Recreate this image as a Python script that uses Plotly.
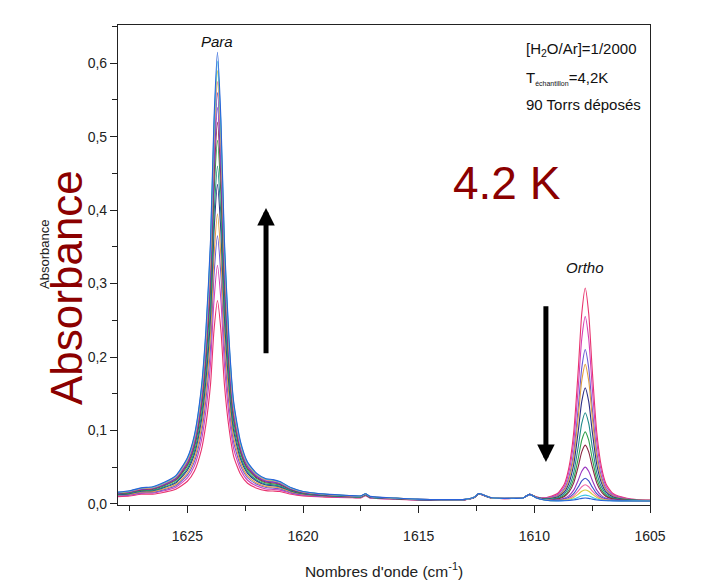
import plotly.graph_objects as go

# ---------------- data ----------------
wavenumber = [1628.0, 1627.5, 1627.0, 1626.5, 1626.0, 1625.5, 1625.0, 1624.7, 1624.4, 1624.2,
              1624.0, 1623.85, 1623.7, 1623.55, 1623.4, 1623.2, 1623.0, 1622.7, 1622.4, 1622.0,
              1621.6, 1621.3, 1621.0, 1620.5, 1620.0, 1619.0, 1618.0, 1617.5, 1617.3, 1617.1,
              1616.0, 1615.0, 1614.0, 1613.0, 1612.6, 1612.4, 1612.2, 1611.9, 1611.5, 1611.0,
              1610.5, 1610.2, 1609.9, 1609.5, 1609.0, 1608.7, 1608.5, 1608.3, 1608.1, 1607.95,
              1607.8, 1607.65, 1607.5, 1607.3, 1607.1, 1606.9, 1606.6, 1606.0, 1605.5, 1605.0]

# para band profile (relative to its maximum)
para_profile = [0.018, 0.021, 0.026, 0.030, 0.040, 0.055, 0.095, 0.145, 0.25, 0.38,
                0.58, 0.85, 1.0, 0.85, 0.58, 0.36, 0.22, 0.13, 0.085, 0.06,
                0.048, 0.046, 0.040, 0.026, 0.018, 0.012, 0.009, 0.008, 0.008, 0.007,
                0.005, 0.004, 0.003, 0.002, 0.002, 0.002, 0.002, 0.001, 0.001, 0.001,
                0, 0, 0, 0, 0, 0, 0, 0, 0, 0,
                0, 0, 0, 0, 0, 0, 0, 0, 0, 0]

# ortho band profile (relative to its maximum)
ortho_profile = [0, 0, 0, 0, 0, 0, 0, 0, 0, 0,
                 0, 0, 0, 0, 0, 0, 0, 0, 0, 0,
                 0, 0, 0, 0, 0, 0, 0, 0, 0, 0,
                 0, 0, 0, 0, 0, 0, 0, 0, 0, 0,
                 0, 0, 0.005, 0.012, 0.035, 0.08, 0.16, 0.32, 0.62, 0.88,
                 1.0, 0.88, 0.62, 0.32, 0.16, 0.08, 0.035, 0.012, 0.006, 0.004]

# common baseline with the small features
baseline = [0.005, 0.005, 0.006, 0.005, 0.005, 0.005, 0.005, 0.005, 0.005, 0.005,
            0.005, 0.005, 0.005, 0.005, 0.005, 0.005, 0.005, 0.005, 0.005, 0.005,
            0.005, 0.005, 0.006, 0.006, 0.006, 0.006, 0.006, 0.006, 0.009, 0.006,
            0.005, 0.004, 0.004, 0.005, 0.008, 0.013, 0.011, 0.008, 0.007, 0.007,
            0.008, 0.013, 0.008, 0.005, 0.004, 0.004, 0.004, 0.004, 0.004, 0.004,
            0.004, 0.004, 0.004, 0.004, 0.004, 0.004, 0.004, 0.004, 0.004, 0.004]

# peak heights of each recorded spectrum (time order)
para_peaks = [0.272, 0.32, 0.36, 0.39, 0.43, 0.455, 0.49, 0.515, 0.535, 0.555, 0.57, 0.585, 0.598, 0.61]
ortho_peaks = [0.29, 0.251, 0.206, 0.186, 0.154, 0.12, 0.094, 0.076, 0.046, 0.031, 0.022, 0.015, 0.008, 0.004]

colors = ["#e8336d", "#d63fb4", "#6a5ad4", "#e0a040", "#2e2f86", "#1f8a8a", "#2ea04a",
          "#8a2440", "#9a36c0", "#3a4ec8", "#f06aa8", "#d4cc3a", "#3cc4e4", "#2a62d8"]

x_ticks = [1625, 1620, 1615, 1610, 1605]
y_ticks = [0.0, 0.1, 0.2, 0.3, 0.4, 0.5, 0.6]

# ---------------- figure ----------------
FONT = "Liberation Sans, Arial, Helvetica, sans-serif"
fig = go.Figure()

for k in range(len(para_peaks)):
    yv = [b + para_peaks[k] * p + ortho_peaks[k] * o
          for b, p, o in zip(baseline, para_profile, ortho_profile)]
    fig.add_trace(go.Scatter(x=wavenumber, y=yv, mode="lines",
                             line=dict(color=colors[k], width=1.1, shape="spline", smoothing=0.6),
                             showlegend=False, hoverinfo="skip"))

L, R, T, B = 118, 62, 25, 75
W, H = 712, 580
pw, ph = W - L - R, H - T - B


def px(xp):
    return (xp - L) / pw


def py(yp):
    return (H - B - yp) / ph


fig.update_layout(
    width=W, height=H,
    margin=dict(l=L, r=R, t=T, b=B, pad=0),
    paper_bgcolor="white", plot_bgcolor="white",
    separators=",.",
    font=dict(family=FONT, color="#222222", size=14),
    xaxis=dict(range=[1628, 1605], tickvals=x_ticks, ticks="outside", ticklen=7, tickwidth=1.2,
               tickcolor="#222", showline=True, linecolor="#222", linewidth=1.2, mirror=True,
               showgrid=False, zeroline=False, tickfont=dict(size=14, color="#222"), ticklabelstandoff=11,
               automargin=False,
               minor=dict(dtick=2.5, tick0=1605, ticks="outside", ticklen=5, tickcolor="#222", showgrid=False),
               title=dict(text="Nombres d'onde (cm<sup>-1</sup>)", font=dict(size=15.5, color="#222"), standoff=24)),
    yaxis=dict(range=[-0.0015, 0.652], tickvals=y_ticks, tickformat=".1f", ticks="outside", ticklen=7,
               tickwidth=1.2, tickcolor="#222", showline=True, linecolor="#222", linewidth=1.2,
               mirror=True, showgrid=False, zeroline=False, tickfont=dict(size=14, color="#222"),
               automargin=False,
               minor=dict(dtick=0.05, tick0=0, ticks="outside", ticklen=5, tickcolor="#222", showgrid=False)),
)

ann = []
# small original axis title
ann.append(dict(text="Absorbance", xref="paper", yref="paper", x=px(45), y=py(255), showarrow=False,
                xanchor="center", yanchor="middle", textangle=-90, font=dict(size=13, color="#222")))
# big red label
ann.append(dict(text="Absorbance", xref="paper", yref="paper", x=px(66), y=py(288), showarrow=False,
                xanchor="center", yanchor="middle", textangle=-90, font=dict(size=44, color="#8b0000")))
ann.append(dict(text="4.2 K", xref="paper", yref="paper", x=px(507), y=py(183), showarrow=False,
                xanchor="center", yanchor="middle", font=dict(size=46, color="#8b0000")))
# info box text
ann.append(dict(text="[H<sub>2</sub>O/Ar]=1/2000", xref="paper", yref="paper", x=px(524), y=py(49),
                xanchor="left", yanchor="middle", showarrow=False, font=dict(size=15, color="#111")))
ann.append(dict(text="T<sub><span style='font-size:7px'>échantillon</span></sub>=4,2K", xref="paper",
                yref="paper", x=px(524), y=py(78), xanchor="left", yanchor="middle", showarrow=False,
                font=dict(size=15, color="#111")))
ann.append(dict(text="90 Torrs déposés", xref="paper", yref="paper", x=px(524), y=py(105),
                xanchor="left", yanchor="middle", showarrow=False, font=dict(size=15, color="#111")))
# band names
ann.append(dict(text="<i>Para</i>", x=1623.7, y=0.629, showarrow=False, font=dict(size=15, color="#111")))
ann.append(dict(text="<i>Ortho</i>", x=1607.8, y=0.322, showarrow=False, font=dict(size=15, color="#111")))
# arrows
ann.append(dict(x=1621.6, y=0.403, ax=1621.6, ay=0.203, xref="x", yref="y", axref="x", ayref="y",
                text="", showarrow=True, arrowhead=2, arrowsize=0.7, arrowwidth=5, arrowcolor="black"))
ann.append(dict(x=1609.5, y=0.057, ax=1609.5, ay=0.271, xref="x", yref="y", axref="x", ayref="y",
                text="", showarrow=True, arrowhead=2, arrowsize=0.7, arrowwidth=5, arrowcolor="black"))
fig.update_layout(annotations=ann)

fig.write_html("out.html")
